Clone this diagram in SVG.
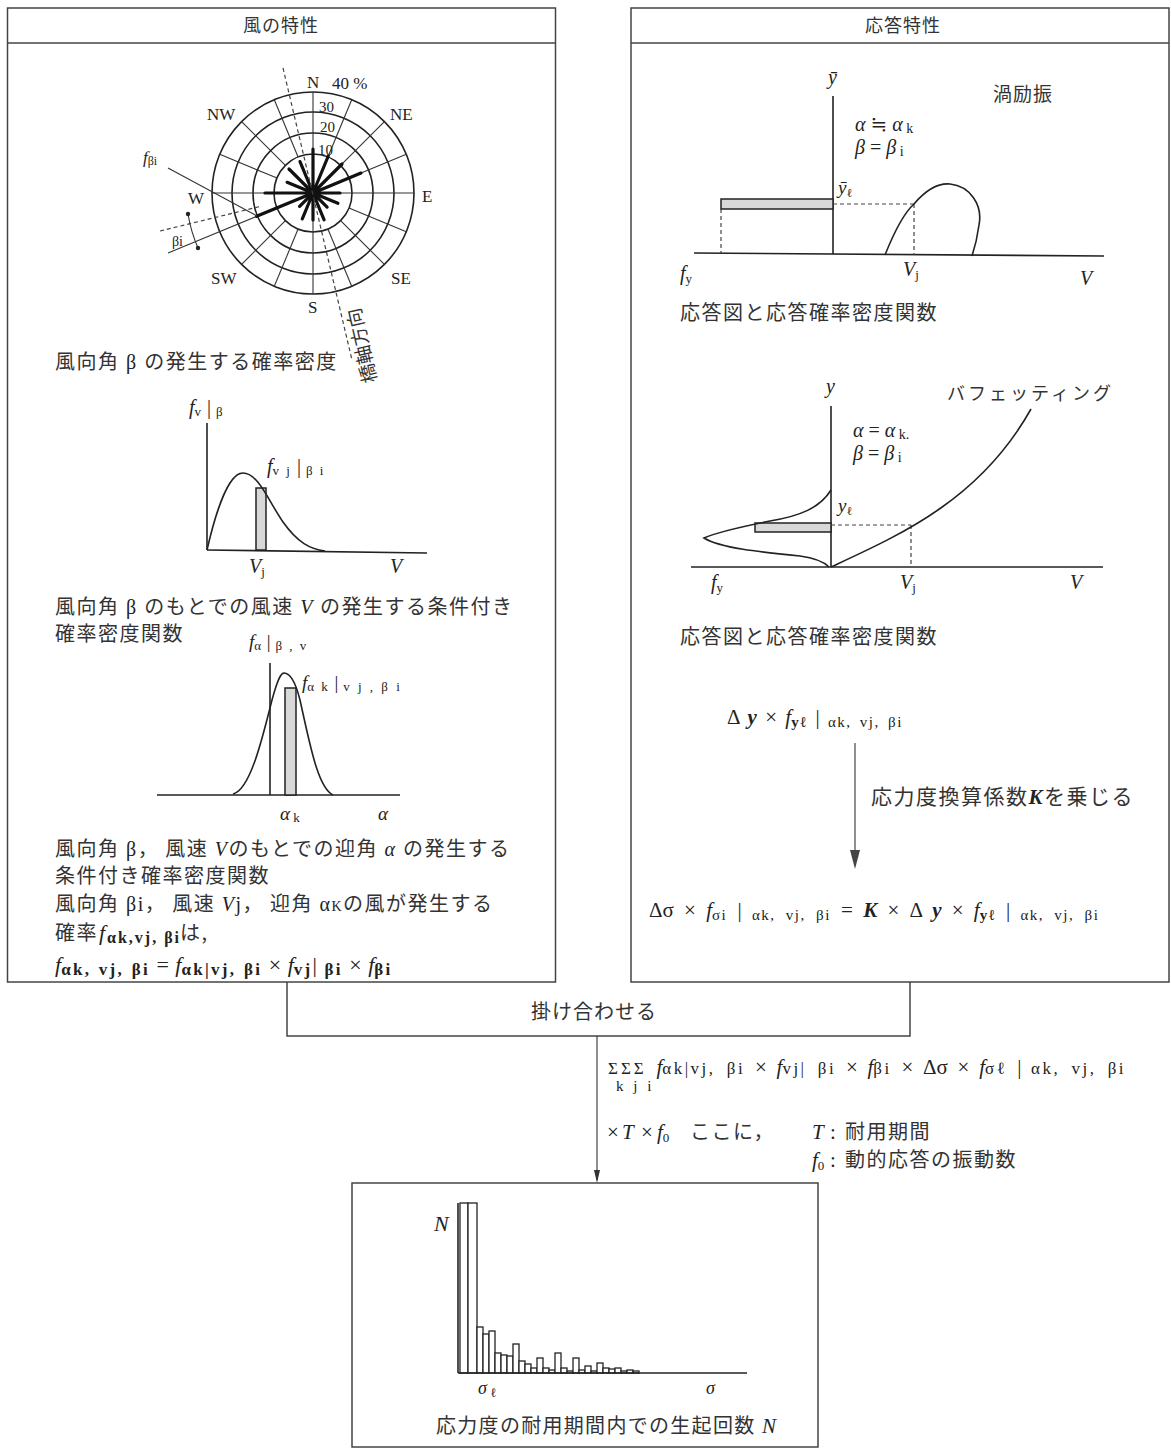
<svg xmlns="http://www.w3.org/2000/svg" width="1171" height="1450" viewBox="0 0 1171 1450">
<defs>
<style>
.box{fill:none;stroke:#444;stroke-width:1.5}
.ln{fill:none;stroke:#222;stroke-width:1.6}
.tn{fill:none;stroke:#333;stroke-width:1.1}
.bar{stroke:#111;stroke-width:3.2;stroke-linecap:round}
.dash{fill:none;stroke:#444;stroke-width:1.2;stroke-dasharray:4 3}
.gb{fill:#d8d8d8;stroke:#222;stroke-width:1.5}
.hb{fill:#fff;stroke:#222;stroke-width:1.3}
.jp{font-family:"Noto Sans CJK JP",sans-serif;fill:#333}
.t{font-size:20px;letter-spacing:1.5px}
.m{font-family:"Liberation Serif","DejaVu Serif",serif;fill:#222}
.i{font-style:italic}
.b{font-size:17px;letter-spacing:2.3px;font-weight:bold}
.c{font-size:15px;letter-spacing:1.5px}
.d{font-size:17px;letter-spacing:2.5px}
</style>
</defs>
<rect width="1171" height="1450" fill="#fff"/>

<g id="wind-box">
<rect class="box" x="7.5" y="8" width="548" height="974"/>
<line class="box" x1="7.5" y1="43" x2="555.5" y2="43"/>
<text class="jp" x="281" y="32" font-size="18" letter-spacing="1" text-anchor="middle">風の特性</text>
</g>

<g id="wind-rose">
<circle class="ln" cx="313" cy="193" r="39"/>
<circle class="ln" cx="313" cy="193" r="60"/>
<circle class="ln" cx="313" cy="193" r="81"/>
<circle class="ln" cx="313" cy="193" r="101"/>
<g class="tn">
<line x1="313" y1="92" x2="313" y2="294"/>
<line x1="212" y1="193" x2="414" y2="193"/>
<line x1="327.9" y1="157" x2="351.7" y2="99.7"/>
<line x1="340.6" y1="165.4" x2="384.4" y2="121.6"/>
<line x1="349" y1="178.1" x2="406.3" y2="154.3"/>
<line x1="349" y1="207.9" x2="406.3" y2="231.7"/>
<line x1="340.6" y1="220.6" x2="384.4" y2="264.4"/>
<line x1="327.9" y1="229" x2="351.7" y2="286.3"/>
<line x1="298.1" y1="229" x2="274.3" y2="286.3"/>
<line x1="285.4" y1="220.6" x2="241.6" y2="264.4"/>
<line x1="277" y1="207.9" x2="168" y2="253"/>
<line x1="277" y1="178.1" x2="219.7" y2="154.3"/>
<line x1="285.4" y1="165.4" x2="241.6" y2="121.6"/>
<line x1="298.1" y1="157" x2="274.3" y2="99.7"/>
</g>
<g class="bar">
<line x1="313" y1="193" x2="313" y2="149"/>
<line x1="313" y1="193" x2="328.3" y2="156"/>
<line x1="313" y1="193" x2="342" y2="164"/>
<line x1="313" y1="193" x2="361" y2="173.1"/>
<line x1="313" y1="193" x2="340" y2="193"/>
<line x1="313" y1="193" x2="337.9" y2="203.3"/>
<line x1="313" y1="193" x2="327.1" y2="207.1"/>
<line x1="313" y1="193" x2="324.1" y2="219.8"/>
<line x1="313" y1="193" x2="313" y2="220"/>
<line x1="313" y1="193" x2="302.3" y2="218.9"/>
<line x1="313" y1="193" x2="299.6" y2="206.4"/>
<line x1="313" y1="193" x2="256.6" y2="216.3"/>
<line x1="313" y1="193" x2="265" y2="193"/>
<line x1="313" y1="193" x2="287.1" y2="182.3"/>
<line x1="313" y1="193" x2="289" y2="169"/>
<line x1="313" y1="193" x2="300" y2="161.6"/>
</g>
<circle cx="313" cy="193" r="8" fill="#111"/>
<line class="dash" x1="283" y1="68" x2="352" y2="360"/>
<line class="dash" x1="160" y1="231" x2="262" y2="206"/>
<line class="tn" x1="168" y1="168" x2="257" y2="216"/>
<path class="tn" d="M188,214 Q191,232 198,248"/>
<circle cx="188" cy="214" r="2.2" fill="#222"/>
<circle cx="198" cy="248" r="2.2" fill="#222"/>
<g class="m" font-size="17">
<text x="307" y="88">N</text>
<text x="332" y="89">40 %</text>
<text x="319" y="112" font-size="15">30</text>
<text x="320" y="132" font-size="15">20</text>
<text x="318" y="155" font-size="15">10</text>
<text x="207" y="120">NW</text>
<text x="390" y="120">NE</text>
<text x="188" y="204">W</text>
<text x="422" y="202">E</text>
<text x="211" y="284">SW</text>
<text x="391" y="284">SE</text>
<text x="308" y="313">S</text>
<text x="143" y="163"><tspan class="i">f</tspan><tspan font-size="12" dy="2">βi</tspan></text>
<text x="172" y="246" font-size="14">βi</text>
</g>
<text class="jp" x="0" y="0" font-size="19" transform="translate(377,381) rotate(-103)">橋軸方向</text>
<text class="jp t" x="55" y="369">風向角<tspan class="m"> β </tspan>の発生する確率密度</text>
</g>

<g id="wind-speed-pdf">
<line class="ln" x1="207" y1="423" x2="207" y2="550"/>
<line class="ln" x1="207" y1="550" x2="427" y2="553"/>
<rect class="gb" x="256" y="488" width="10" height="62"/>
<path class="ln" stroke-width="2.2" d="M207,550 C215,515 228,473 243,473 C258,473 268,500 283,522 C298,543 310,549 325,551"/>
<text class="m" x="189" y="414" font-size="20"><tspan class="i">f</tspan><tspan font-size="13" dy="2" letter-spacing="1">v</tspan><tspan dy="-2"> | </tspan><tspan font-size="13" dy="2">β</tspan></text>
<text class="m" x="267" y="473" font-size="20"><tspan class="i">f</tspan><tspan font-size="13" dy="2" letter-spacing="2">v j</tspan><tspan dy="-2"> | </tspan><tspan font-size="13" dy="2" letter-spacing="2">β i</tspan></text>
<text class="m" x="249" y="573" font-size="20"><tspan class="i">V</tspan><tspan font-size="13" dy="3">j</tspan></text>
<text class="m i" x="390" y="573" font-size="20">V</text>
<text class="jp t" x="55" y="614">風向角<tspan class="m"> β </tspan>のもとでの風速<tspan class="m i"> V </tspan>の発生する条件付き</text>
<text class="jp t" x="55" y="641">確率密度関数</text>
</g>

<g id="attack-angle-pdf">
<line class="ln" x1="157" y1="795" x2="400" y2="795"/>
<line class="ln" x1="270" y1="663" x2="270" y2="795"/>
<rect class="gb" x="285" y="688" width="11" height="107"/>
<path class="ln" stroke-width="2.2" d="M233,794 C250,790 262,740 272,700 C278,678 281,673 284,673 C289,673 295,680 300,700 C310,745 318,788 333,795"/>
<text class="m" x="249" y="648" font-size="19"><tspan class="i">f</tspan><tspan font-size="13" dy="2" letter-spacing="1">α</tspan><tspan dy="-2"> | </tspan><tspan font-size="13" dy="2" letter-spacing="2">β , v</tspan></text>
<text class="m" x="302" y="689" font-size="19"><tspan class="i">f</tspan><tspan font-size="13" dy="2" letter-spacing="2">α k</tspan><tspan dy="-2"> | </tspan><tspan font-size="13" dy="2" letter-spacing="2.5">v j , β i</tspan></text>
<text class="m" x="280" y="820" font-size="19"><tspan class="i">α</tspan><tspan font-size="13" dy="2"> k</tspan></text>
<text class="m i" x="378" y="820" font-size="19">α</text>
</g>

<g id="wind-text">
<text class="jp t" x="55" y="856">風向角<tspan class="m"> β</tspan>， 風速<tspan class="m i"> V</tspan>のもとでの迎角<tspan class="m i"> α </tspan>の発生する</text>
<text class="jp t" x="55" y="883">条件付き確率密度関数</text>
<text class="jp t" x="55" y="911">風向角<tspan class="m"> β</tspan><tspan class="m">i</tspan>， 風速<tspan class="m i"> V</tspan><tspan class="m">j</tspan>， 迎角<tspan class="m"> α</tspan><tspan class="m" font-size="14">K</tspan>の風が発生する</text>
<text class="jp t" x="55" y="940">確率<tspan class="m i" x="99" font-size="22" letter-spacing="0">f</tspan><tspan class="m" x="107" dy="3" font-size="16" letter-spacing="2" font-weight="bold">αk,vj, βi</tspan><tspan x="180" dy="-3">は,</tspan></text>
<text class="m" x="55" y="972" font-size="22" word-spacing="1"><tspan class="i">f</tspan><tspan class="b" dy="3">αk, vj, βi</tspan><tspan dy="-3"> = </tspan><tspan class="i">f</tspan><tspan class="b" dy="3">αk|vj, βi</tspan><tspan dy="-3"> × </tspan><tspan class="i">f</tspan><tspan class="b" dy="3">vj</tspan><tspan dy="-3">|</tspan><tspan class="b" dy="3"> βi</tspan><tspan dy="-3"> × </tspan><tspan class="i">f</tspan><tspan class="b" dy="3">βi</tspan></text>
</g>

<g id="response-box">
<rect class="box" x="631" y="8" width="538" height="974"/>
<line class="box" x1="631" y1="43" x2="1169" y2="43"/>
<text class="jp" x="903" y="32" font-size="18" letter-spacing="1" text-anchor="middle">応答特性</text>
</g>

<g id="vortex-chart">
<line class="ln" x1="833" y1="96" x2="833" y2="254"/>
<line class="ln" x1="694" y1="253" x2="1104" y2="256"/>
<rect class="gb" x="721" y="199" width="112" height="10"/>
<line class="dash" x1="721" y1="209" x2="721" y2="253"/>
<line class="dash" x1="833" y1="204" x2="914" y2="204"/>
<line class="dash" x1="914" y1="204" x2="914" y2="255"/>
<path class="ln" stroke-width="2.2" d="M885,255 C895,230 905,212 914,204 C925,191 938,183 950,184 C970,186 983,205 979,225 C977,240 974,250 972,256"/>
<text class="m i" x="828" y="84" font-size="20">ȳ</text>
<text class="jp" x="993" y="101" font-size="19" letter-spacing="1">渦励振</text>
<text class="m" x="855" y="131" font-size="20"><tspan class="i">α</tspan> ≒ <tspan class="i">α</tspan><tspan font-size="14" dy="2"> k</tspan></text>
<text class="m" x="855" y="154" font-size="20"><tspan class="i">β</tspan> = <tspan class="i">β</tspan><tspan font-size="14" dy="2"> i</tspan></text>
<text class="m" x="838" y="194" font-size="19"><tspan class="i">ȳ</tspan><tspan font-size="12" dy="3">ℓ</tspan></text>
<text class="m" x="680" y="280" font-size="20"><tspan class="i">f</tspan><tspan font-size="13" dy="3">y</tspan></text>
<text class="m" x="903" y="276" font-size="20"><tspan class="i">V</tspan><tspan font-size="13" dy="3">j</tspan></text>
<text class="m i" x="1080" y="285" font-size="20">V</text>
<text class="jp t" x="680" y="320">応答図と応答確率密度関数</text>
</g>

<g id="buffeting-chart">
<line class="ln" x1="831" y1="406" x2="831" y2="567"/>
<line class="ln" x1="691" y1="567" x2="1103" y2="567"/>
<rect class="gb" x="755" y="523" width="76" height="9"/>
<line class="dash" x1="831" y1="525" x2="911" y2="525"/>
<line class="dash" x1="911" y1="525" x2="911" y2="567"/>
<path class="ln" stroke-width="2.2" d="M831,567 C900,535 980,500 1031,409"/>
<path class="ln" stroke-width="2.2" d="M831,490 C820,508 800,516 770,521 C740,527 715,533 704,538 C720,548 760,552 800,556 C815,558 825,563 829,567"/>
<text class="m i" x="826" y="393" font-size="20">y</text>
<text class="jp" x="947" y="400" font-size="18" letter-spacing="3" fill="#555">バフェッティング</text>
<text class="m" x="853" y="437" font-size="20"><tspan class="i">α</tspan> = <tspan class="i">α</tspan><tspan font-size="14" dy="2"> k.</tspan></text>
<text class="m" x="853" y="460" font-size="20"><tspan class="i">β</tspan> = <tspan class="i">β</tspan><tspan font-size="14" dy="2"> i</tspan></text>
<text class="m" x="838" y="512" font-size="19"><tspan class="i">y</tspan><tspan font-size="12" dy="3">ℓ</tspan></text>
<text class="m" x="711" y="589" font-size="20"><tspan class="i">f</tspan><tspan font-size="13" dy="3">y</tspan></text>
<text class="m" x="900" y="589" font-size="20"><tspan class="i">V</tspan><tspan font-size="13" dy="3">j</tspan></text>
<text class="m i" x="1070" y="589" font-size="20">V</text>
<text class="jp t" x="680" y="644">応答図と応答確率密度関数</text>
</g>

<g id="stress-conversion">
<text class="m" x="727" y="724" font-size="21" word-spacing="3">Δ <tspan class="i" font-weight="bold">y</tspan> × <tspan class="i">f</tspan><tspan class="c" dy="3" font-weight="bold">yℓ</tspan><tspan dy="-3"> | </tspan><tspan class="c" dy="3">αk, vj, βi</tspan></text>
<text class="jp" x="871" y="804" font-size="21" letter-spacing="1.5">応力度換算係数<tspan class="m i" font-weight="bold">K</tspan>を乗じる</text>
<text class="m" x="649" y="917" font-size="21" word-spacing="5">Δσ × <tspan class="i">f</tspan><tspan class="c" dy="3">σi</tspan><tspan dy="-3"> | </tspan><tspan class="c" dy="3">αk, vj, βi</tspan><tspan dy="-3"> = </tspan><tspan class="i" font-weight="bold">K</tspan> × Δ <tspan class="i" font-weight="bold">y</tspan> × <tspan class="i">f</tspan><tspan class="c" dy="3" font-weight="bold">yℓ</tspan><tspan dy="-3"> | </tspan><tspan class="c" dy="3">αk, vj, βi</tspan></text>
</g>

<g id="multiply-box">
<path class="box" d="M287,982 V1036 H910 V982"/>
<text class="jp" x="594" y="1019" font-size="20" letter-spacing="1" text-anchor="middle">掛け合わせる</text>
</g>

<g id="histogram-box">
<rect class="box" x="352" y="1183" width="466" height="264"/>
<g>
<rect class="hb" x="460" y="1203" width="8" height="170"/>
<rect class="hb" x="468" y="1203" width="9" height="170"/>
<rect class="hb" x="477" y="1327" width="6" height="46"/>
<rect class="hb" x="483" y="1334" width="6" height="39"/>
<rect class="hb" x="489" y="1331" width="6" height="42"/>
<rect class="hb" x="495" y="1353" width="6" height="20"/>
<rect class="hb" x="501" y="1355" width="6" height="18"/>
<rect class="hb" x="507" y="1356" width="6" height="17"/>
<rect class="hb" x="513" y="1344" width="6" height="29"/>
<rect class="hb" x="519" y="1361" width="6" height="12"/>
<rect class="hb" x="525" y="1364" width="6" height="9"/>
<rect class="hb" x="531" y="1368" width="6" height="5"/>
<rect class="hb" x="537" y="1358" width="6" height="15"/>
<rect class="hb" x="543" y="1368" width="6" height="5"/>
<rect class="hb" x="549" y="1370" width="6" height="3"/>
<rect class="hb" x="555" y="1353" width="6" height="20"/>
<rect class="hb" x="561" y="1368" width="6" height="5"/>
<rect class="hb" x="567" y="1371" width="6" height="2"/>
<rect class="hb" x="573" y="1358" width="6" height="15"/>
<rect class="hb" x="579" y="1370" width="6" height="3"/>
<rect class="hb" x="585" y="1366" width="6" height="7"/>
<rect class="hb" x="591" y="1371" width="6" height="2"/>
<rect class="hb" x="597" y="1363" width="6" height="10"/>
<rect class="hb" x="603" y="1368" width="6" height="5"/>
<rect class="hb" x="609" y="1369" width="6" height="4"/>
<rect class="hb" x="615" y="1368" width="6" height="5"/>
<rect class="hb" x="621" y="1371" width="6" height="2"/>
<rect class="hb" x="627" y="1370" width="6" height="3"/>
<rect class="hb" x="633" y="1371" width="6" height="2"/>
</g>
<line class="ln" x1="458" y1="1203" x2="458" y2="1373"/>
<line class="ln" x1="458" y1="1373" x2="747" y2="1373"/>
<text class="m i" x="434" y="1231" font-size="22">N</text>
<text class="m" x="478" y="1394" font-size="18"><tspan class="i">σ</tspan><tspan font-size="13" dy="3"> ℓ</tspan></text>
<text class="m i" x="706" y="1394" font-size="18">σ</text>
<text class="jp" x="436" y="1433" font-size="20" letter-spacing="1.3">応力度の耐用期間内での生起回数<tspan class="m i" font-size="21"> N</tspan></text>
</g>

<g id="connectors">
<line class="tn" x1="855" y1="743" x2="855" y2="852"/>
<polygon points="850,850 860,850 855,869" fill="#444"/>
<line class="tn" x1="597" y1="1036" x2="597" y2="1180"/>
<polygon points="594,1170 600,1170 597,1183" fill="#333"/>
</g>

<g id="fatigue-formula">
<text class="m" x="608" y="1074" font-size="21" word-spacing="4.5"><tspan font-size="17" letter-spacing="3">ΣΣΣ</tspan> <tspan class="i">f</tspan><tspan class="d">αk|vj, βi</tspan> × <tspan class="i">f</tspan><tspan class="d">vj|</tspan><tspan class="d"> βi</tspan> × <tspan class="i">f</tspan><tspan class="d">βi</tspan> × Δσ × <tspan class="i">f</tspan><tspan class="d">σℓ</tspan> | <tspan class="d">αk, vj, βi</tspan></text>
<text class="m" x="616" y="1091" font-size="15" letter-spacing="3">k j i</text>
<text class="m" x="607" y="1139" font-size="21">×<tspan class="i" x="622">T</tspan><tspan x="641">×</tspan><tspan class="i" x="657">f</tspan><tspan font-size="13" dy="3">0</tspan><tspan class="jp" x="690" dy="-3" font-size="20" letter-spacing="1.5">ここに，</tspan><tspan class="i" x="812">T</tspan><tspan x="830">:</tspan><tspan class="jp" x="845" font-size="20" letter-spacing="1.5">耐用期間</tspan></text>
<text class="m" x="812" y="1167" font-size="21"><tspan class="i">f</tspan><tspan font-size="13" dy="3">0</tspan><tspan x="830" dy="-3">:</tspan><tspan class="jp" x="845" font-size="20" letter-spacing="1.5">動的応答の振動数</tspan></text>
</g>
</svg>
